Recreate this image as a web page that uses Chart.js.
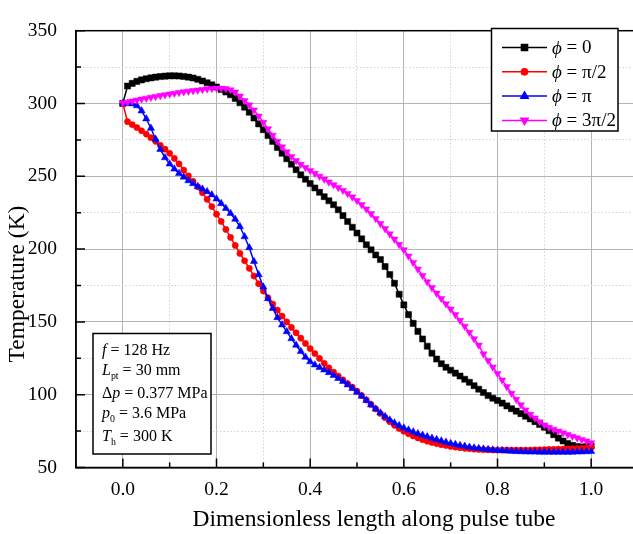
<!DOCTYPE html>
<html>
<head>
<meta charset="utf-8">
<script src="https://cdn.jsdelivr.net/npm/chart.js@4.4.1/dist/chart.umd.min.js"></script>
<style>
  html, body { margin: 0; padding: 0; background: #fff; overflow: hidden; }
  #wrap { width: 633px; height: 534px; overflow: hidden; position: relative; }
</style>
</head>
<body>
<div id="wrap"><canvas id="chart-temp" width="660" height="534"></canvas></div>
<script>
// Temperature profiles along the pulse tube, four phases

const xPos = [
  0.00, 0.01, 0.02, 0.03, 0.04, 0.05, 0.06, 0.07, 0.08, 0.09,
  0.10, 0.11, 0.12, 0.13, 0.14, 0.15, 0.16, 0.17, 0.18, 0.19,
  0.20, 0.21, 0.22, 0.23, 0.24, 0.25, 0.26, 0.27, 0.28, 0.29,
  0.30, 0.31, 0.32, 0.33, 0.34, 0.35, 0.36, 0.37, 0.38, 0.39,
  0.40, 0.41, 0.42, 0.43, 0.44, 0.45, 0.46, 0.47, 0.48, 0.49,
  0.50, 0.51, 0.52, 0.53, 0.54, 0.55, 0.56, 0.57, 0.58, 0.59,
  0.60, 0.61, 0.62, 0.63, 0.64, 0.65, 0.66, 0.67, 0.68, 0.69,
  0.70, 0.71, 0.72, 0.73, 0.74, 0.75, 0.76, 0.77, 0.78, 0.79,
  0.80, 0.81, 0.82, 0.83, 0.84, 0.85, 0.86, 0.87, 0.88, 0.89,
  0.90, 0.91, 0.92, 0.93, 0.94, 0.95, 0.96, 0.97, 0.98, 0.99,
  1.00,
];

// phi = 0
const tPhi0 = [
  300, 312, 313.8, 315.2, 316.2, 317, 317.6, 318.1, 318.5, 318.8,
  319, 319, 318.9, 318.6, 318.1, 317.5, 316.6, 315.5, 314.2, 312.8,
  311.3, 309.6, 307.9, 306, 303.5, 300.5, 297.5, 294, 290, 286,
  282, 278, 274, 269.8, 265.8, 262, 258.3, 254.5, 251, 248,
  245, 242, 239, 236, 233.2, 230.5, 227, 223, 219, 215,
  211, 207, 203, 199.5, 196, 192.8, 188, 182.5, 176.5, 169,
  161.7, 155, 149, 143.5, 138.3, 133.3, 128.5, 124.5, 121.3, 118.8,
  116.8, 114.8, 112.8, 110.6, 108.5, 106.2, 103.8, 101.5, 99.4, 97.6,
  96, 94.2, 92.3, 90.4, 88.7, 87, 85.2, 83.4, 81.5, 79.6,
  77.6, 75.2, 72.5, 70.2, 68.2, 66.5, 65.2, 64.4, 64.1, 64.3,
  64.8,
];

// phi = pi/2
const tPhiHalfPi = [
  300, 287.5, 285.5, 283.5, 281.3, 279, 276.5, 274, 271.3, 268.6,
  265.8, 262.3, 258.5, 254.3, 250.3, 246.5, 242.8, 238.7, 234.2, 229.2,
  224, 219, 213.5, 208, 202.5, 197, 192, 186.8, 181.5, 176.2,
  171.2, 166.6, 162.3, 158.1, 154, 150, 146.2, 142.5, 138.8, 135.2,
  131.7, 128.3, 124.9, 121.6, 118.5, 115.5, 112.8, 110.2, 107.7, 105.2,
  102.4, 99.4, 96.4, 93.3, 90.2, 87.1, 84.2, 81.5, 79, 76.8,
  74.9, 73.2, 71.7, 70.3, 69.1, 68.1, 67.2, 66.4, 65.7, 65.1,
  64.5, 64, 63.6, 63.2, 62.9, 62.6, 62.4, 62.2, 62.1, 62,
  62, 62, 62, 62, 62, 62, 62, 62, 62.1, 62.2,
  62.3, 62.4, 62.5, 62.6, 62.7, 62.8, 62.9, 63, 63.2, 63.4,
  63.8,
];

// phi = pi
const tPhiPi = [
  300, 300, 299.8, 298.5, 295, 289.5, 283, 275.5, 268.5, 262.8,
  258.5, 255, 252, 249.5, 247, 245, 243, 241.3, 239.5, 237.3,
  234.5, 231.3, 228, 224.5, 220.5, 215.5, 208.5, 201, 191.5, 182.5,
  174, 166, 159.3, 153, 148, 143.3, 138.5, 134, 129.7, 125.8,
  122.7, 120.5, 118.7, 117, 115.2, 113.2, 111.2, 109.1, 106.8, 104.4,
  101.8, 99, 96, 93, 90.2, 87.5, 85, 82.7, 80.6, 78.8,
  77.2, 75.8, 74.5, 73.3, 72.2, 71.2, 70.2, 69.2, 68.3, 67.4,
  66.6, 65.9, 65.2, 64.6, 64, 63.5, 63.1, 62.7, 62.4, 62.1,
  61.8, 61.6, 61.4, 61.2, 61, 60.9, 60.8, 60.7, 60.7, 60.6,
  60.6, 60.5, 60.5, 60.5, 60.5, 60.5, 60.6, 60.7, 60.8, 60.9,
  61,
];

// phi = 3pi/2
const tPhi3HalfPi = [
  300.5, 301, 301.7, 302.4, 303, 303.6, 304.2, 304.8, 305.4, 306,
  306.5, 307, 307.5, 308, 308.4, 308.8, 309.2, 309.6, 310, 310.3,
  310.5, 310.5, 310.2, 309.4, 307.8, 305, 302, 299, 295.5, 291.3,
  287, 282.6, 278.2, 274, 270.2, 266.8, 263.6, 260.8, 258.2, 256,
  254, 252, 250, 248, 246, 244.2, 242.3, 240.3, 238.2, 235.8,
  233.3, 230.5, 227.5, 224.3, 221, 217.5, 214, 210.4, 206.8, 203.2,
  199.5, 195.2, 190.8, 186.3, 181.8, 177.5, 173.5, 169.7, 166, 162.4,
  158.8, 155, 151, 147, 142.8, 138.4, 134, 128, 123.5, 119,
  114.5, 110, 105.5, 101, 96.8, 93, 89.5, 86.5, 84, 81.4,
  79.2, 77.6, 76.2, 75, 73.8, 72.6, 71.4, 70.3, 69.2, 68.2,
  67,
];

const seriesLabels = ["0", "π/2", "π", "3π/2"];

const xMajor = [0.0, 0.2, 0.4, 0.6, 0.8, 1.0];
const xMinor = [0.1, 0.3, 0.5, 0.7, 0.9];
const xTickLabels = ["0.0", "0.2", "0.4", "0.6", "0.8", "1.0"];
const yMajor = [50, 100, 150, 200, 250, 300, 350];
const yMinor = [75, 125, 175, 225, 275, 325];
const yTickLabels = ["50", "100", "150", "200", "250", "300", "350"];

const FONT = '"Liberation Serif", "Times New Roman", serif';

const styles = [
  { color: "#000000", point: "rect", radius: 4.3, rotation: 0 },
  { color: "#ff0000", point: "circle", radius: 3.1, rotation: 0 },
  { color: "#0000ff", point: "triangle", radius: 4.2, rotation: 0 },
  { color: "#ff00ff", point: "triangle", radius: 4.2, rotation: 180 },
];
const seriesData = [tPhi0, tPhiHalfPi, tPhiPi, tPhi3HalfPi];

const near = (a, b) => Math.abs(a - b) < 1e-6;
const isIn = (list, v) => list.some((m) => near(m, v));

const datasets = seriesData.map((vals, i) => ({
  label: "ϕ = " + seriesLabels[i],
  data: vals.map((t, k) => ({ x: xPos[k], y: t })),
  borderColor: styles[i].color,
  backgroundColor: styles[i].color,
  borderWidth: 1.5,
  pointStyle: styles[i].point,
  pointRadius: styles[i].radius,
  pointRotation: styles[i].rotation,
  pointBackgroundColor: styles[i].color,
  pointBorderColor: styles[i].color,
  pointBorderWidth: 0.5,
  tension: 0,
  order: 4 - i,
}));

// draws italic / subscript runs of text one after another
function drawRuns(ctx, x, y, parts, size) {
  for (const [txt, kind] of parts) {
    const sz = kind === "sub" ? size * 0.62 : size;
    ctx.font = (kind === "i" ? "italic " : "") + sz + "px " + FONT;
    ctx.fillText(txt, x, kind === "sub" ? y + size * 0.28 : y);
    x += ctx.measureText(txt).width;
  }
}

const decor = {
  id: "decor",
  afterDraw(chart) {
    const { ctx, chartArea: a, scales } = chart;
    const xs = scales.x, ys = scales.y;
    ctx.save();

    // inward tick marks
    ctx.strokeStyle = "#000";
    ctx.lineWidth = 1.5;
    ctx.beginPath();
    yMajor.forEach((v) => { const p = ys.getPixelForValue(v); ctx.moveTo(a.left, p); ctx.lineTo(a.left + 9, p); });
    yMinor.forEach((v) => { const p = ys.getPixelForValue(v); ctx.moveTo(a.left, p); ctx.lineTo(a.left + 5, p); });
    xMajor.forEach((v) => { const p = xs.getPixelForValue(v); ctx.moveTo(p, a.bottom); ctx.lineTo(p, a.bottom - 9); });
    xMinor.forEach((v) => { const p = xs.getPixelForValue(v); ctx.moveTo(p, a.bottom); ctx.lineTo(p, a.bottom - 5); });
    ctx.stroke();

    // frame
    ctx.strokeRect(a.left, a.top, a.right - a.left, a.bottom - a.top);

    // legend box
    ctx.fillStyle = "#fff";
    ctx.fillRect(491.5, 28.5, 126.5, 102.5);
    ctx.strokeRect(491.5, 28.5, 126.5, 102.5);
    ctx.textBaseline = "middle";
    ctx.textAlign = "left";
    styles.forEach((s, i) => {
      const yy = 47.5 + i * 24.3;
      ctx.strokeStyle = s.color;
      ctx.lineWidth = 1.5;
      ctx.beginPath();
      ctx.moveTo(502, yy);
      ctx.lineTo(547, yy);
      ctx.stroke();
      ctx.fillStyle = s.color;
      Chart.helpers.drawPoint(ctx, { pointStyle: s.point, radius: s.radius, rotation: s.rotation, borderWidth: 0.5 }, 524.5, yy);
      ctx.fillStyle = "#000";
      drawRuns(ctx, 552, yy + 1, [["ϕ", "i"], [" = " + seriesLabels[i], "n"]], 19);
    });

    // parameter box
    ctx.strokeStyle = "#000";
    ctx.lineWidth = 1.5;
    ctx.fillStyle = "#fff";
    ctx.fillRect(93, 333.5, 118, 120.5);
    ctx.strokeRect(93, 333.5, 118, 120.5);
    ctx.fillStyle = "#000";
    ctx.textBaseline = "alphabetic";
    const size = 16;
    drawRuns(ctx, 102, 355, [["f", "i"], [" = 128 Hz", "n"]], size);
    drawRuns(ctx, 102, 375, [["L", "i"], ["pt", "sub"], [" = 30 mm", "n"]], size);
    drawRuns(ctx, 102, 398, [["Δ", "n"], ["p", "i"], [" = 0.377 MPa", "n"]], size);
    drawRuns(ctx, 102, 418, [["p", "i"], ["0", "sub"], [" = 3.6 MPa", "n"]], size);
    drawRuns(ctx, 102, 441, [["T", "i"], ["h", "sub"], [" = 300 K", "n"]], size);

    // axis titles
    ctx.font = "23.5px " + FONT;
    ctx.textAlign = "center";
    ctx.textBaseline = "middle";
    ctx.fillText("Dimensionless length along pulse tube", 374, 520);
    ctx.translate(18, 284);
    ctx.rotate(-Math.PI / 2);
    ctx.fillText("Temperature (K)", 0, 0);

    ctx.restore();
  },
};

const gridColor = (list) => (c) => (c.tick && isIn(list, c.tick.value) ? "#b4b4b4" : "#d4d4d4");
const gridDash = (list) => (c) => (c.tick && !isIn(list, c.tick.value) ? [1.5, 2] : []);

new Chart(document.getElementById("chart-temp"), {
  type: "line",
  data: { datasets },
  options: {
    responsive: false,
    animation: false,
    devicePixelRatio: 1,
    layout: { padding: { left: 0, top: 17, right: 22, bottom: 0 } },
    plugins: { legend: { display: false }, tooltip: { enabled: false } },
    scales: {
      x: {
        type: "linear",
        min: -0.1,
        max: 1.1,
        afterBuildTicks: (s) => { s.ticks = [...xMajor, ...xMinor].sort((p, q) => p - q).map((v) => ({ value: v })); },
        afterFit: (s) => { s.height = 66.5; },
        ticks: {
          autoSkip: false,
          maxRotation: 0,
          padding: 11,
          color: "#000",
          font: { family: FONT, size: 19.5 },
          callback: (v) => { const i = xMajor.findIndex((m) => near(m, v)); return i >= 0 ? xTickLabels[i] : ""; },
        },
        grid: { drawTicks: false, color: gridColor(xMajor), lineWidth: 1 },
        border: { display: true, color: "#000", width: 1.5, dash: gridDash(xMajor) },
      },
      y: {
        type: "linear",
        min: 50,
        max: 350,
        afterBuildTicks: (s) => { s.ticks = [...yMajor, ...yMinor].sort((p, q) => p - q).map((v) => ({ value: v })); },
        afterFit: (s) => { s.width = 76; },
        ticks: {
          autoSkip: false,
          padding: 19,
          color: "#000",
          font: { family: FONT, size: 19.5 },
          callback: (v) => { const i = yMajor.findIndex((m) => near(m, v)); return i >= 0 ? yTickLabels[i] : ""; },
        },
        grid: { drawTicks: false, color: gridColor(yMajor), lineWidth: 1 },
        border: { display: true, color: "#000", width: 1.5, dash: gridDash(yMajor) },
      },
    },
  },
  plugins: [decor],
});
</script>
</body>
</html>
